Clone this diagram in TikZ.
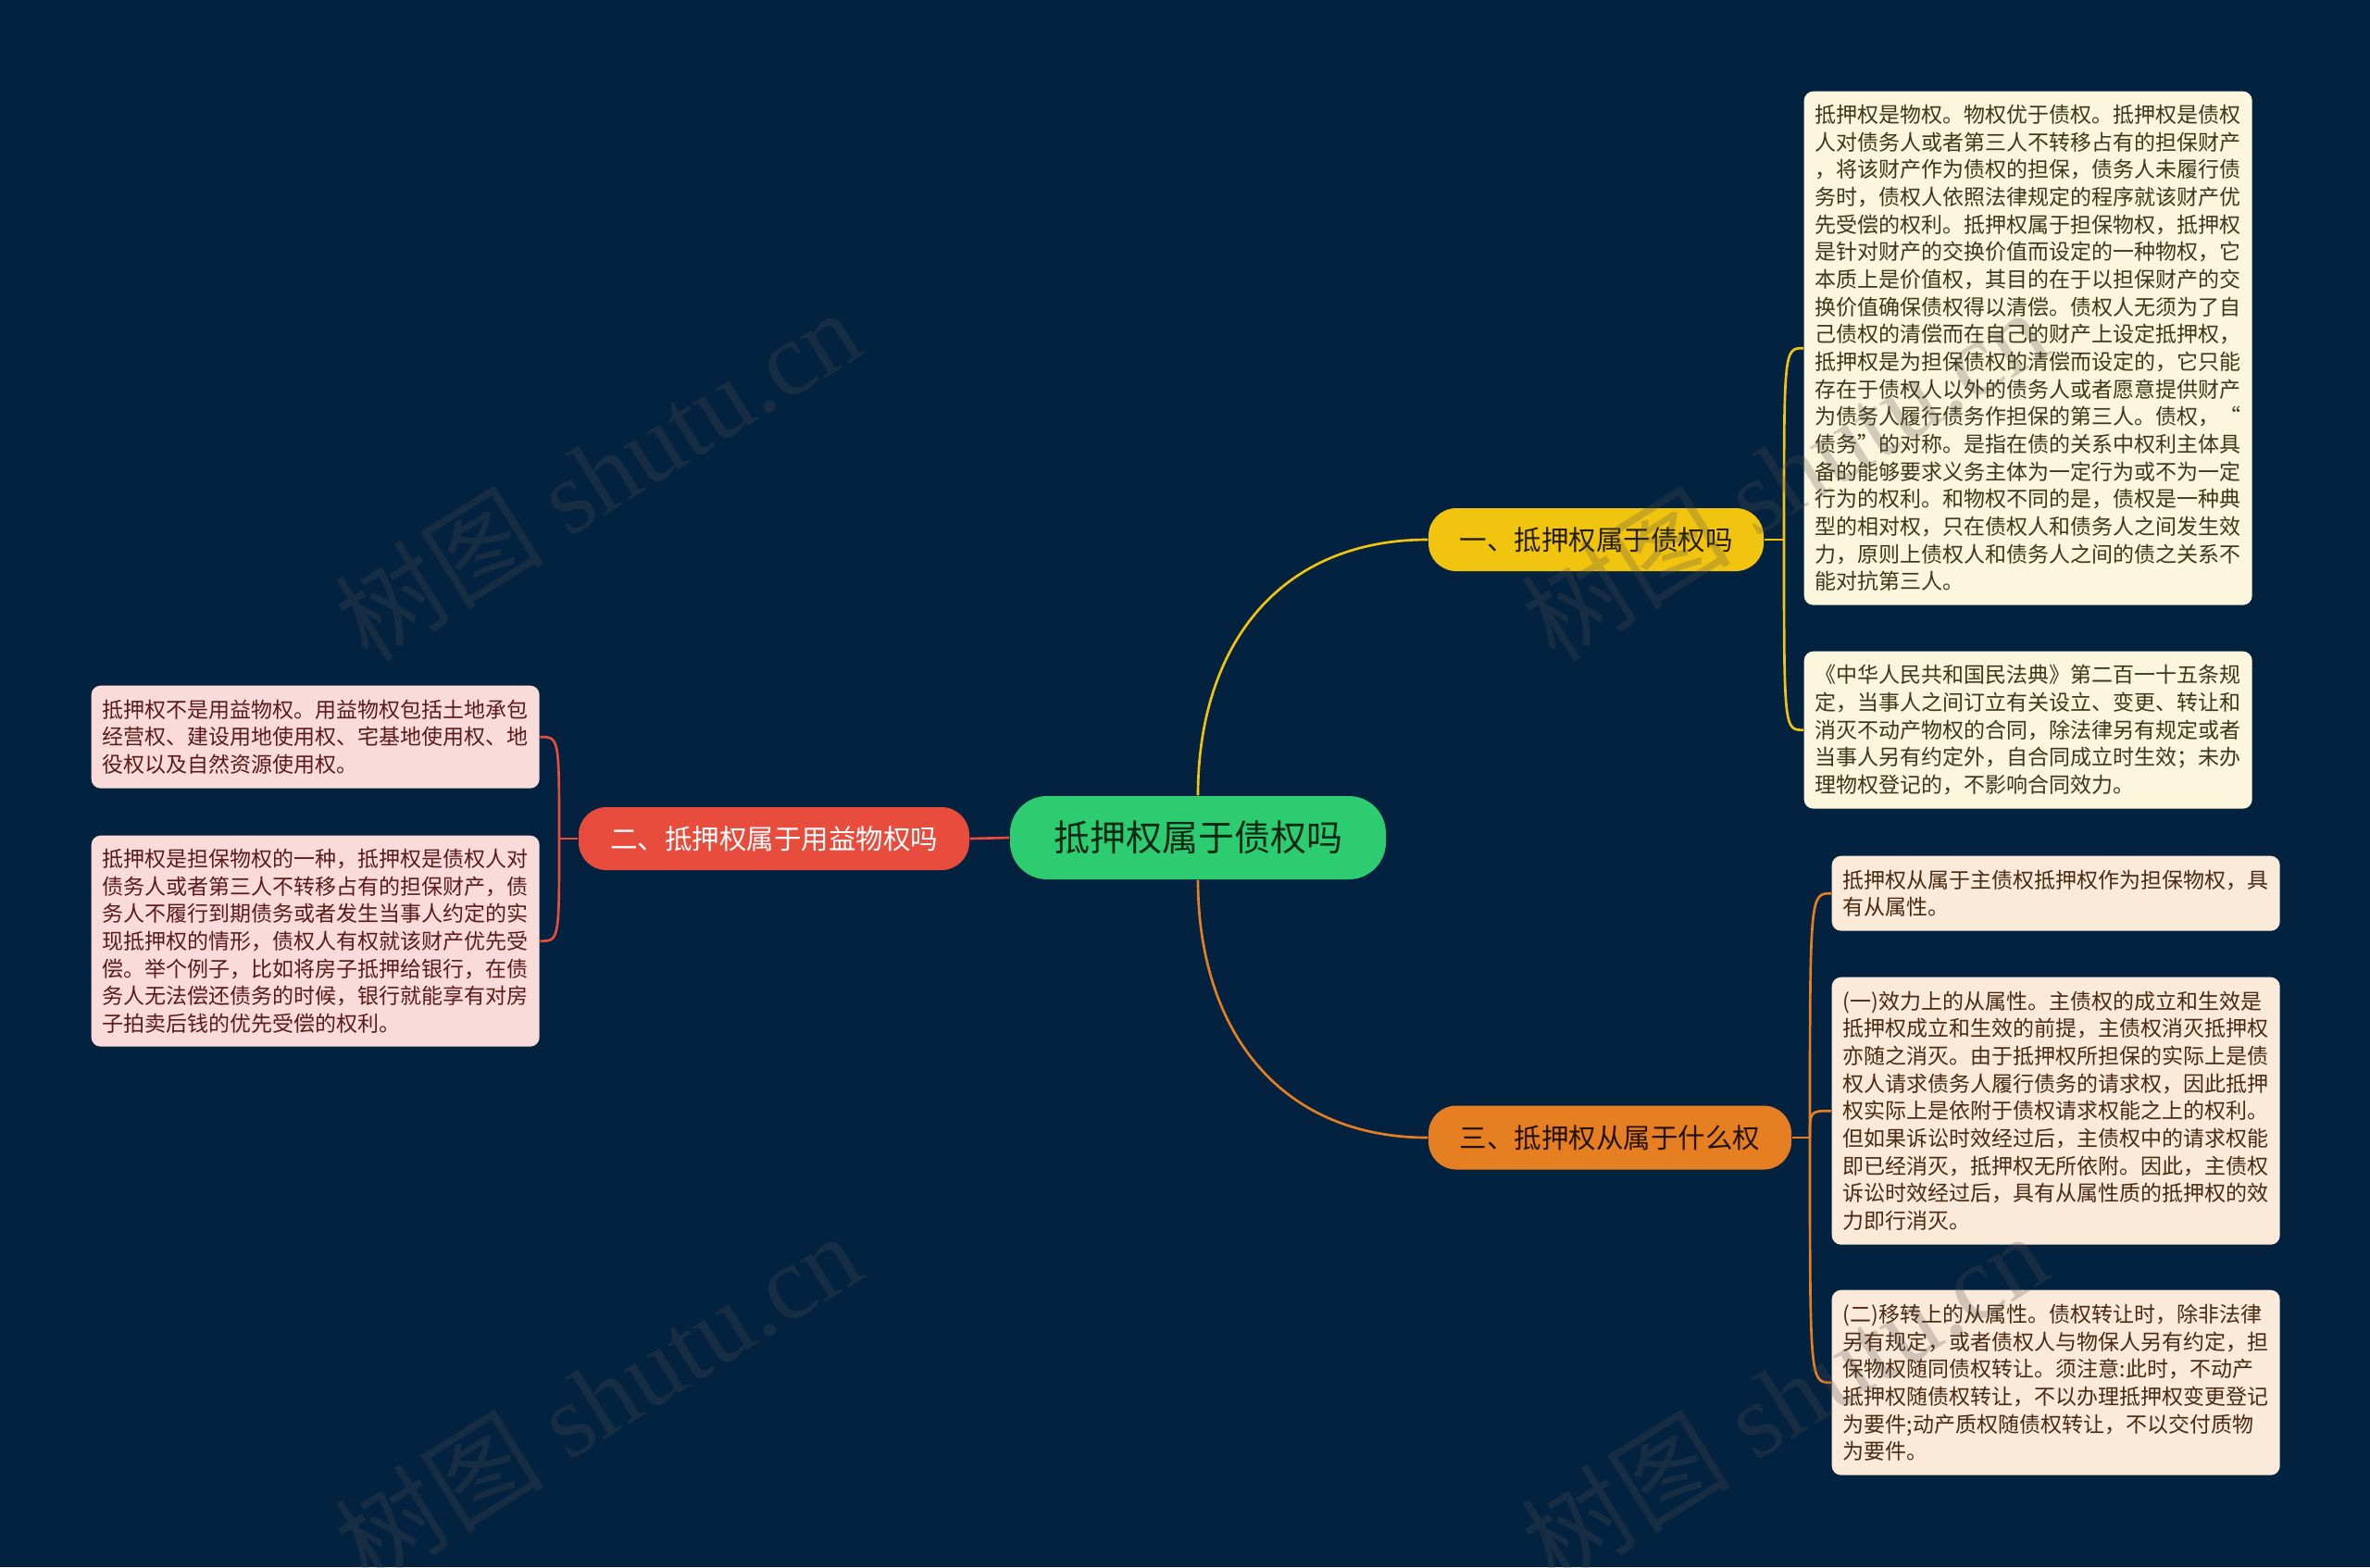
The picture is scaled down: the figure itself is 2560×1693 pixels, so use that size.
\documentclass[tikz,border=0pt]{standalone}
\usepackage{fontspec}
\newfontfamily\cjk{Noto Sans CJK SC}
\newfontfamily\wmfont{Liberation Serif}
\definecolor{bgnavy}{HTML}{03223F}
\definecolor{rootgreen}{HTML}{2ECC71}
\definecolor{ybranch}{HTML}{F1C40F}
\definecolor{rbranch}{HTML}{E74C3C}
\definecolor{obranch}{HTML}{E67E22}
\definecolor{yfill}{HTML}{FCF6DC}
\definecolor{ofill}{HTML}{FBE9D9}
\definecolor{rfill}{HTML}{F9DCDA}
\definecolor{ytext}{HTML}{3C3819}
\definecolor{otext}{HTML}{4A2A12}
\definecolor{rtext}{HTML}{5C1A1A}
\definecolor{wmgray}{HTML}{505050}
\usetikzlibrary{calc}

\begin{document}
\begin{tikzpicture}[x=0.3pt,y=-0.3pt,
    leaf/.style={rounded corners=3pt, anchor=north west, align=left, text width=138pt,
        inner xsep=3.6pt, inner ysep=0pt, font=\cjk\fontsize{6.9}{8.9}\selectfont},
    branch/.style={rounded corners=9pt, minimum height=20.4pt, inner sep=0pt,
        font=\cjk\fontsize{8.85}{10}\selectfont},
    yellowline/.style={draw=ybranch, line width=0.8pt},
    orangeline/.style={draw=obranch, line width=0.8pt},
    redline/.style={draw=rbranch, line width=0.8pt},
    wmark/.style={text=wmgray, opacity=0.25, rotate=32, font=\wmfont\fontsize{34}{38}\selectfont}]
        \fill[bgnavy] (0,0) rectangle (2560,1693);
        \useasboundingbox (0,0) rectangle (2560,1693);

        \node[fill=rootgreen, text=black!80!rootgreen, rounded corners=12pt, minimum width=121.8pt,
            minimum height=27pt, inner sep=0pt, font=\cjk\fontsize{11.7}{13}\selectfont]
            (root) at (1294,905) {抵押权属于债权吗};
        \node[branch, fill=ybranch, text=black!85!ybranch, minimum width=108.6pt] (b1) at (1724,583) {一、抵押权属于债权吗};
        \node[branch, fill=rbranch, text=white, minimum width=126.6pt] (b2) at (836,906) {二、抵押权属于用益物权吗};
        \node[branch, fill=obranch, text=black!85!obranch, minimum width=117.6pt, minimum height=20.7pt] (b3) at (1739,1229) {三、抵押权从属于什么权};

        \node[leaf, fill=yfill, text=ytext, minimum height=166.5pt] (y1) at (1948,98) {抵押权是物权。物权优于债权。抵押权是债权\\
人对债务人或者第三人不转移占有的担保财产\\
，将该财产作为债权的担保，债务人未履行债\\
务时，债权人依照法律规定的程序就该财产优\\
先受偿的权利。抵押权属于担保物权，抵押权\\
是针对财产的交换价值而设定的一种物权，它\\
本质上是价值权，其目的在于以担保财产的交\\
换价值确保债权得以清偿。债权人无须为了自\\
己债权的清偿而在自己的财产上设定抵押权，\\
抵押权是为担保债权的清偿而设定的，它只能\\
存在于债权人以外的债务人或者愿意提供财产\\
为债务人履行债务作担保的第三人。债权，“\\
债务”的对称。是指在债的关系中权利主体具\\
备的能够要求义务主体为一定行为或不为一定\\
行为的权利。和物权不同的是，债权是一种典\\
型的相对权，只在债权人和债务人之间发生效\\
力，原则上债权人和债务人之间的债之关系不\\
能对抗第三人。};
        \node[leaf, fill=yfill, text=ytext, minimum height=51pt] (y2) at (1948,703) {《中华人民共和国民法典》第二百一十五条规\\
定，当事人之间订立有关设立、变更、转让和\\
消灭不动产物权的合同，除法律另有规定或者\\
当事人另有约定外，自合同成立时生效；未办\\
理物权登记的，不影响合同效力。};

        \node[leaf, fill=ofill, text=otext, minimum height=24.3pt] (o1) at (1978,924) {抵押权从属于主债权抵押权作为担保物权，具\\
有从属性。};
        \node[leaf, fill=ofill, text=otext, minimum height=86.7pt] (o2) at (1978,1055) {(一)效力上的从属性。主债权的成立和生效是\\
抵押权成立和生效的前提，主债权消灭抵押权\\
亦随之消灭。由于抵押权所担保的实际上是债\\
权人请求债务人履行债务的请求权，因此抵押\\
权实际上是依附于债权请求权能之上的权利。\\
但如果诉讼时效经过后，主债权中的请求权能\\
即已经消灭，抵押权无所依附。因此，主债权\\
诉讼时效经过后，具有从属性质的抵押权的效\\
力即行消灭。};
        \node[leaf, fill=ofill, text=otext, minimum height=60pt] (o3) at (1978,1393) {(二)移转上的从属性。债权转让时，除非法律\\
另有规定，或者债权人与物保人另有约定，担\\
保物权随同债权转让。须注意:此时，不动产\\
抵押权随债权转让，不以办理抵押权变更登记\\
为要件;动产质权随债权转让，不以交付质物\\
为要件。};

        \node[leaf, fill=rfill, text=rtext, minimum height=33.3pt] (r1) at (98,740) {抵押权不是用益物权。用益物权包括土地承包\\
经营权、建设用地使用权、宅基地使用权、地\\
役权以及自然资源使用权。};
        \node[leaf, fill=rfill, text=rtext, minimum height=68.4pt] (r2) at (98,902) {抵押权是担保物权的一种，抵押权是债权人对\\
债务人或者第三人不转移占有的担保财产，债\\
务人不履行到期债务或者发生当事人约定的实\\
现抵押权的情形，债权人有权就该财产优先受\\
偿。举个例子，比如将房子抵押给银行，在债\\
务人无法偿还债务的时候，银行就能享有对房\\
子拍卖后钱的优先受偿的权利。};

        \coordinate (j1) at (1927,583);
        \coordinate (j2) at (604,906);
        \coordinate (j3) at (1955,1229);

        \draw[yellowline] (root.north) .. controls +(0,-160) and +(-162,0) .. (b1.west);
        \draw[orangeline] (root.south) .. controls +(0,160) and +(-162,0) .. (b3.west);
        \draw[redline] (root.west) -- (b2.east);

        \draw[yellowline] (b1.east) -- (j1);
        \draw[yellowline] (j1) .. controls (j1 |- y1.west) .. (y1.west);
        \draw[yellowline] (j1) .. controls (j1 |- y2.west) .. (y2.west);

        \draw[redline] (b2.west) -- (j2);
        \draw[redline] (j2) .. controls (j2 |- r1.east) .. (r1.east);
        \draw[redline] (j2) .. controls (j2 |- r2.east) .. (r2.east);

        \draw[orangeline] (b3.east) -- (j3);
        \draw[orangeline] (j3) .. controls (j3 |- o1.west) .. (o1.west);
        \draw[orangeline] (j3) .. controls (j3 |- o2.west) .. (o2.west);
        \draw[orangeline] (j3) .. controls (j3 |- o3.west) .. (o3.west);

        \foreach \wx/\wy [count=\i] in {645/512, 645/1510, 1927/512, 1927/1510}
            \node[wmark] (wm\i) at (\wx,\wy) {{\cjk 树图} shutu.cn};
\end{tikzpicture}
\end{document}
